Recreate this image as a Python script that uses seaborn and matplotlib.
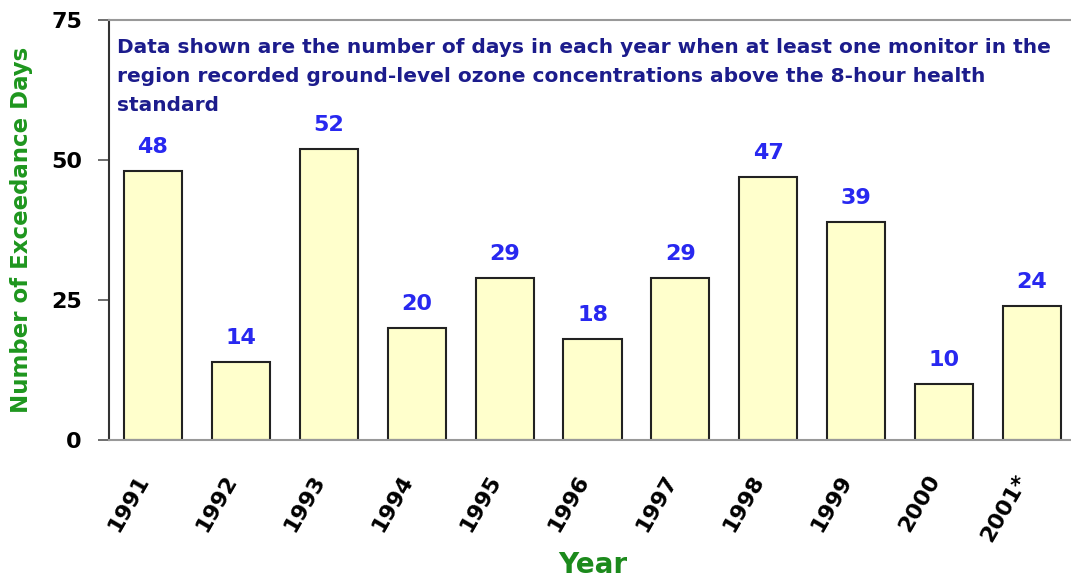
import pandas as pd
import numpy as np
import matplotlib
matplotlib.use("Agg")
import matplotlib.pyplot as plt
import seaborn as sns

sns.set_style("white")
plt.rcParams['font.family'] = ['DejaVu Sans']

years = ["1991", "1992", "1993", "1994", "1995", "1996", "1997", "1998", "1999", "2000", "2001*"]
days = [48, 14, 52, 20, 29, 18, 29, 47, 39, 10, 24]
yticks = [0, 25, 50, 75]
note = ("Data shown are the number of days in each year when at least one monitor in the\n"
        "region recorded ground-level ozone concentrations above the 8-hour health\n"
        "standard")

df = pd.DataFrame({"Year": years, "Days": days})

fig = plt.figure(figsize=(10.71, 5.80), dpi=100)
ax = fig.add_axes([109/1071, 140/580, (1076-109)/1071, 420/580])

sns.barplot(data=df, x="Year", y="Days", color="#FFFFCC", saturation=1,
            edgecolor="#222222", linewidth=1.5, width=0.66, ax=ax)

# value labels
for i, v in enumerate(days):
    ax.annotate(str(v), (i, v), xytext=(0, 10), textcoords="offset points",
                ha="center", va="bottom", color="#2828F0", fontsize=16, fontweight="bold")

ax.text(0.008, 0.957, note, transform=ax.transAxes, ha="left", va="top",
        color="#1C1C8C", fontsize=14.5, fontweight="bold", linespacing=1.68)

ax.set_xlim(-0.5, 10.5)
ax.set_ylim(0, 75)
ax.set_yticks(yticks)
ax.set_yticklabels([str(t) for t in yticks], fontsize=16, fontweight="bold", color="black")
ax.tick_params(axis="y", which="major", left=True, length=8, width=1.2, color="#555555", pad=11.5)
ax.tick_params(axis="x", bottom=False, pad=19)
plt.setp(ax.get_xticklabels(), rotation=60, fontsize=16, fontweight="bold",
         ha="right", va="top", color="black")

ax.set_ylabel("Number of Exceedance Days", color="#1E961E", fontsize=16.5,
              fontweight="bold", labelpad=13)
ax.set_xlabel("Year", color="#1C8A1C", fontsize=20, fontweight="bold", labelpad=4)

for side in ["top", "bottom"]:
    ax.spines[side].set_color("#999999")
    ax.spines[side].set_linewidth(1.5)
ax.spines["left"].set_color("#333333")
ax.spines["left"].set_linewidth(1.5)
ax.spines["right"].set_visible(False)

fig.savefig("out.png", dpi=100)
